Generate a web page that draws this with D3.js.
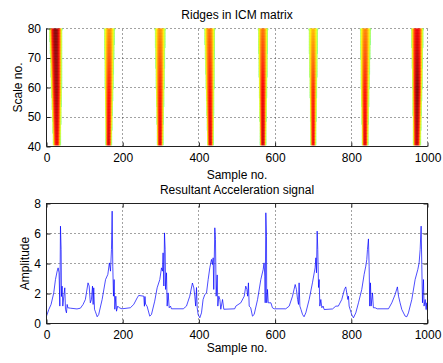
<!DOCTYPE html>
<html>
<head>
    <meta charset="utf-8">
    <title>Ridges in ICM matrix</title>
    <script type="text/javascript" src="https://cdn.jsdelivr.net/npm/d3@7"></script>
    <style type="text/css">
        body { margin: 0; background: #fff; }
        text { font-family: "Liberation Sans", Arial, sans-serif; fill: #000; }
        .tick text { font-size: 12px; }
        .tick line { stroke: #222; }
        .grid line { stroke: #444; stroke-dasharray: 1,3; stroke-width: 1; }
        .frame { stroke: #222; fill: none; stroke-width: 1; }
        .label { font-size: 12px; }
    </style>
</head>
<body>
<script type="text/javascript">
    // ridge parameters (at scale 80, 60 and 41)
    var ridgeScales = [80, 60, 41];
    var ridgeCentreTop = [24, 165, 298, 428, 568, 700, 837, 973];
    var ridgeCentreMid = [26, 164, 298, 429, 568, 700, 836, 973];
    var ridgeCentreBot = [27, 163, 298, 430, 568, 700, 836, 972];
    var ridgeHalfTop = [17, 14, 14, 14, 13, 12, 14, 16];
    var ridgeHalfMid = [14, 11, 11, 11, 10.5, 9.5, 11, 13];
    var ridgeHalfBot = [10, 8, 8, 8, 8, 7, 8, 10];
    var ridgePeakTop = [1.0, 0.74, 0.74, 0.77, 0.77, 0.7, 0.75, 0.9];
    var ridgePeakMid = [0.97, 0.86, 0.85, 0.87, 0.89, 0.84, 0.86, 1.0];
    var ridgePeakBot = [0.9, 0.93, 0.92, 0.93, 0.94, 0.9, 0.92, 0.95];

    // resultant acceleration signal (sample no., amplitude)
    var sigX = [0, 6, 12, 19, 23.5, 28, 30.5, 33, 35, 36.7, 38.4, 39.3, 41, 42.8, 45.4, 48, 49.8, 52.4, 54.2, 56,
        63, 80, 89, 96, 102, 109, 112, 115, 118, 120.7, 122.4, 124, 126, 128.5, 133, 137, 146, 155, 161, 165,
        168, 170.5, 172.3, 174, 175.8, 177.5, 179.3, 182, 183.7, 187, 191, 198, 220, 229, 238, 242, 255.4, 257, 258.5, 260,
        264, 271, 275.5, 284, 290.4, 297.4, 301.8, 304.4, 306, 308, 309.7, 311.4, 312.5, 315, 316.7, 319.3, 322, 325.4, 328, 359,
        367.4, 376, 383, 386.7, 389.3, 391.5, 393.7, 395.5, 398, 402.4, 406.8, 411, 415.5, 420, 424.3, 428.6, 433, 435.7, 437.4, 439,
        441.8, 443.5, 445.3, 448, 449.7, 452.3, 455, 457.5, 462, 465.4, 494, 497, 510, 519, 523, 526, 528, 530, 532, 536,
        540.6, 545, 554, 562.5, 568.7, 571, 573, 574, 575.7, 577.4, 578, 580, 582, 589, 593, 597.5, 628, 637, 645.7, 652.7,
        656, 659, 661.4, 663, 665, 668, 672, 676, 680.6, 689.4, 698, 705, 707, 708.6, 710.4, 712, 714, 715.7, 717.4, 720,
        722.7, 726, 728.8, 750.7, 759.4, 766, 775, 782, 785.5, 788, 791, 792.5, 794.3, 797, 801, 805.7, 811.8, 818.8, 827.5, 833.7,
        838, 840.7, 842.4, 845, 846.8, 848.5, 850.3, 852, 855.6, 858, 862.6, 868, 897.6, 906.3, 915, 921, 924, 928, 932.6, 941.3,
        945.7, 950, 958.8, 967.5, 974.6, 978, 980.7, 983.3, 985, 986.8, 989.4, 991, 994, 996.4, 998, 1000];
    var sigY = [0.49, 0.93, 1.27, 2.04, 2.93, 3.49, 3.71, 3.38, 1.16, 6.49, 4.93, 1.8, 2.49, 1.16, 1.82, 2.38, 0.95, 0.71, 1.27, 1.05,
        1.02, 0.97, 1.02, 1.27, 1.6, 2.71, 2.5, 1.38, 1.6, 2.49, 1.27, 2.38, 0.95, 0.78, 0.45, 0.6, 1.6, 2.93, 3.27, 4.04,
        3.49, 4.93, 7.49, 3.82, 1.82, 2.93, 0.95, 1.82, 0.82, 1.16, 1.05, 0.98, 1.05, 1.27, 1.71, 1.87, 1.82, 1.15, 1.8, 1.3,
        1.15, 0.49, 0.6, 1.49, 2.38, 2.93, 3.71, 3.49, 4.71, 2.5, 6.04, 4.93, 2.27, 3.38, 1.16, 2.04, 1.05, 1.16, 0.98, 0.98,
        1.16, 1.82, 2.7, 2.37, 1.82, 1.16, 2.4, 1.05, 0.6, 0.38, 0.71, 1.6, 1.93, 2.04, 2.93, 3.71, 4.27, 3.93, 4.38, 2.27,
        6.38, 5.6, 1.82, 3.24, 1.16, 1.82, 1.6, 0.95, 1.6, 0.95, 0.98, 1.16, 1.38, 1.82, 2.49, 2.27, 1.82, 2.71, 1.16, 1.05,
        0.49, 0.6, 1.6, 2.93, 3.6, 4.04, 3.16, 1.38, 7.38, 5.82, 1.38, 2.27, 1.38, 1.38, 1.05, 0.98, 0.98, 1.16, 1.82, 2.6,
        2.27, 1.6, 1.27, 2.71, 1.16, 0.93, 0.6, 0.45, 0.71, 1.6, 2.71, 3.71, 4.38, 3.38, 6.16, 4.93, 2.4, 2.93, 1.16, 1.6,
        1.05, 1.16, 0.93, 0.97, 1.16, 1.16, 1.6, 2.27, 2.44, 2.04, 1.6, 1.82, 1.16, 0.93, 0.6, 0.38, 0.71, 1.38, 2.27, 3.27,
        3.82, 4.27, 4.93, 5.64, 3.82, 1.16, 2.71, 1.16, 2.04, 1.05, 1.05, 0.98, 0.98, 1.38, 1.93, 2.44, 1.82, 1.38, 0.93, 0.49,
        0.45, 0.71, 1.6, 2.93, 3.6, 4.04, 4.93, 6.49, 3.93, 1.38, 2.93, 1.16, 1.6, 0.93, 1.38, 0.8];

    var sampleTicks = [0, 200, 400, 600, 800, 1000];
    var scaleTicks = [40, 50, 60, 70, 80];
    var ampTicks = [0, 2, 4, 6, 8];

    var width = 443, height = 363;
    var left = 46.5, right = 427.5;

    var svg = d3.select("body").append("svg")
            .attr("width", width)
            .attr("height", height);

    // jet colormap, upper half
    var jet = d3.scaleLinear()
            .domain([0.5, 0.625, 0.75, 0.875, 1])
            .range(["#80ff80", "#ffff00", "#ff8000", "#ff0000", "#800000"])
            .clamp(true);

    function snap(v) { return Math.round(v - 0.5) + 0.5; }

    function grid(g, x, y, xs, ys) {
        var gg = g.append("g").attr("class", "grid");
        gg.selectAll("line.v").data(xs).enter().append("line")
                .attr("class", "v")
                .attr("x1", function (d) { return snap(x(d)); })
                .attr("x2", function (d) { return snap(x(d)); })
                .attr("y1", y.range()[0]).attr("y2", y.range()[1]);
        gg.selectAll("line.h").data(ys).enter().append("line")
                .attr("class", "h")
                .attr("y1", function (d) { return snap(y(d)); })
                .attr("y2", function (d) { return snap(y(d)); })
                .attr("x1", x.range()[0]).attr("x2", x.range()[1]);
    }

    function axes(g, x, y, xt, yt) {
        g.append("g")
                .attr("transform", "translate(0," + y.range()[0] + ")")
                .call(d3.axisBottom(x).tickValues(xt).tickSize(-4).tickPadding(7.3).tickFormat(d3.format("d")))
                .call(function (a) { a.select(".domain").remove(); });
        g.append("g")
                .attr("transform", "translate(" + x.range()[0] + ",0)")
                .call(d3.axisLeft(y).tickValues(yt).tickSize(-4).tickPadding(5.5).tickFormat(d3.format("d")))
                .call(function (a) { a.select(".domain").remove(); });
    }

    // ---- top panel: ridges ----
    var xTop = d3.scaleLinear().domain([0, 1000]).range([left, right]);
    var yTop = d3.scaleLinear().domain([40, 80]).range([146.5, 28.5]);

    var topG = svg.append("g");
    svg.append("clipPath").attr("id", "clipTop").append("rect")
            .attr("x", left).attr("y", yTop(80))
            .attr("width", right - left).attr("height", yTop(40) - yTop(80));

    grid(topG, xTop, yTop, [200, 400, 600, 800, 1000], [50, 60, 70, 80]);

    var cells = [];
    ridgeCentreTop.forEach(function (c, i) {
        var cen = d3.scaleLinear().domain(ridgeScales).range([ridgeCentreTop[i], ridgeCentreMid[i], ridgeCentreBot[i]]);
        var half = d3.scaleLinear().domain(ridgeScales).range([ridgeHalfTop[i], ridgeHalfMid[i], ridgeHalfBot[i]]);
        var peak = d3.scaleLinear().domain(ridgeScales).range([ridgePeakTop[i], ridgePeakMid[i], ridgePeakBot[i]]);
        for (var s = 41; s <= 80; s++) {
            var cc = cen(s), h = half(s), p = peak(s);
            for (var x = Math.ceil(cc - h); x <= Math.floor(cc + h); x++) {
                var d = (x - cc) / h;
                cells.push({x: x, s: s, v: 0.5 + (p - 0.5) * (1 - d * d)});
            }
        }
    });

    topG.append("g").attr("clip-path", "url(#clipTop)")
            .selectAll("rect").data(cells).enter().append("rect")
            .attr("x", function (d) { return xTop(d.x - 0.5); })
            .attr("y", function (d) { return yTop(d.s + 0.5); })
            .attr("width", xTop(1) - xTop(0) + 0.3)
            .attr("height", yTop(0) - yTop(1) + 0.3)
            .attr("fill", function (d) { return jet(d.v); });

    topG.append("path").attr("class", "frame")
            .attr("d", "M" + left + "," + yTop(80) + "V" + yTop(40) + "H" + right);
    axes(topG, xTop, yTop, sampleTicks, scaleTicks);

    topG.append("text").attr("class", "label")
            .attr("x", (left + right) / 2).attr("y", 18.5)
            .attr("text-anchor", "middle").text("Ridges in ICM matrix");
    topG.append("text").attr("class", "label")
            .attr("x", (left + right) / 2).attr("y", 179)
            .attr("text-anchor", "middle").text("Sample no.");
    topG.append("text").attr("class", "label")
            .attr("transform", "translate(22," + yTop(60) + ") rotate(-90)")
            .attr("text-anchor", "middle").text("Scale no.");

    // ---- bottom panel: signal ----
    var xBot = d3.scaleLinear().domain([0, 1000]).range([left, right]);
    var yBot = d3.scaleLinear().domain([0, 8]).range([323.5, 203.5]);

    var botG = svg.append("g");
    grid(botG, xBot, yBot, [200, 400, 600, 800], [2, 4, 6]);

    var line = d3.line()
            .x(function (d, i) { return xBot(sigX[i]); })
            .y(function (d) { return yBot(d); });

    botG.append("path").datum(sigY)
            .attr("d", line)
            .attr("fill", "none")
            .attr("stroke", "#0000ff")
            .attr("stroke-width", 0.7);

    botG.append("rect").attr("class", "frame")
            .attr("x", left).attr("y", yBot(8))
            .attr("width", right - left).attr("height", yBot(0) - yBot(8));
    axes(botG, xBot, yBot, sampleTicks, ampTicks);
    // mirrored ticks on top and right
    botG.append("g").attr("transform", "translate(0," + yBot(8) + ")")
            .call(d3.axisTop(xBot).tickValues(sampleTicks).tickSize(-4).tickFormat(""))
            .call(function (a) { a.select(".domain").remove(); });
    botG.append("g").attr("transform", "translate(" + right + ",0)")
            .call(d3.axisRight(yBot).tickValues(ampTicks).tickSize(-4).tickFormat(""))
            .call(function (a) { a.select(".domain").remove(); });

    botG.append("text").attr("class", "label")
            .attr("x", (left + right) / 2).attr("y", 194)
            .attr("text-anchor", "middle").text("Resultant Acceleration signal");
    botG.append("text").attr("class", "label")
            .attr("x", (left + right) / 2).attr("y", 352)
            .attr("text-anchor", "middle").text("Sample no.");
    botG.append("text").attr("class", "label")
            .attr("transform", "translate(28.5," + yBot(4) + ") rotate(-90)")
            .attr("text-anchor", "middle").text("Amplitude");
</script>
</body>
</html>
